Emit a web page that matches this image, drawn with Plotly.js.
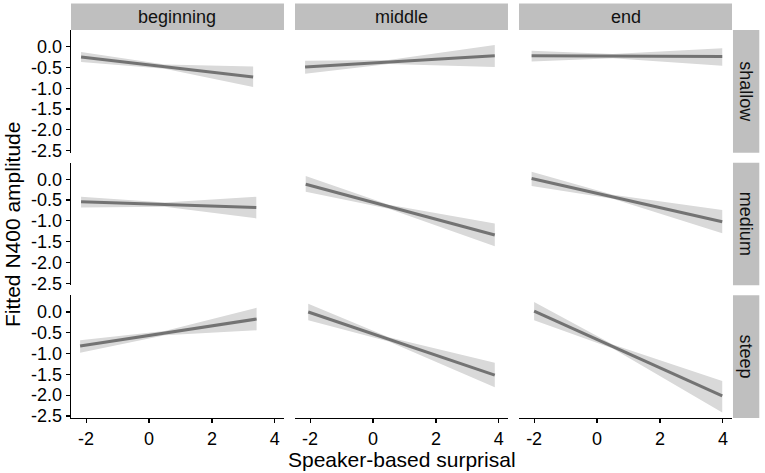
<!DOCTYPE html>
<html>
<head>
<meta charset="utf-8">
<script src="https://cdn.plot.ly/plotly-3.0.1.min.js"></script>
<style>
  html, body { margin: 0; padding: 0; background: #fff; }
  #chart { width: 765px; height: 473px; }
</style>
</head>
<body>
<div id="chart"></div>
<script>
// facet labels
const positions = ["beginning", "middle", "end"];   // columns
const slopes = ["shallow", "medium", "steep"];      // rows

// panels go row by row: shallow (beginning, middle, end), medium (...), steep (...)
const xFrom = [-2.16, -2.16, -2.08, -2.16, -2.14, -2.08, -2.19, -2.06, -2.0];
const xMid = [0.5, 0.5, 0.5, 0.5, 0.5, 0.5, 0.5, 0.5, 0.5];
const xTo = [3.31, 3.87, 3.98, 3.41, 3.87, 3.98, 3.42, 3.87, 3.98];

const fitFrom = [-0.25, -0.49, -0.22, -0.54, -0.12, 0.02, -0.82, 0.0, 0.02];
const fitTo = [-0.73, -0.22, -0.24, -0.68, -1.34, -1.02, -0.17, -1.52, -2.02];

const upperFrom = [-0.13, -0.34, -0.10, -0.42, 0.08, 0.18, -0.68, 0.20, 0.24];
const upperMid = [-0.43, -0.32, -0.18, -0.56, -0.61, -0.37, -0.46, -0.61, -0.78];
const upperTo = [-0.48, 0.04, -0.04, -0.42, -1.06, -0.74, 0.10, -1.22, -1.66];

const lowerFrom = [-0.37, -0.65, -0.36, -0.68, -0.30, -0.16, -0.98, -0.20, -0.20];
const lowerMid = [-0.53, -0.42, -0.28, -0.66, -0.71, -0.47, -0.56, -0.71, -0.88];
const lowerTo = [-0.97, -0.49, -0.46, -0.94, -1.61, -1.30, -0.44, -1.81, -2.42];

const xTickVals = [-2, 0, 2, 4];
const xTickText = ["-2", "0", "2", "4"];
const yTickVals = [0, -0.5, -1, -1.5, -2, -2.5];
const yTickText = ["0.0", "-0.5", "-1.0", "-1.5", "-2.0", "-2.5"];

const xTitle = "Speaker-based surprisal";
const yTitle = "Fitted N400 amplitude";

// layout geometry (paper fractions)
const colDomains = [[0, 0.3222], [0.3389, 0.6611], [0.6778, 1]];
const rowDomains = [[0.6838, 1], [0.3419, 0.6581], [0, 0.3162]];

const font = "Liberation Sans, Arial, sans-serif";
const ink = "#000";
const lineColor = "#737373";
const ribbonColor = "#d9d9d9";
const stripColor = "#bfbfbf";

const traces = [];
const layout = {
    width: 765,
    height: 473,
    margin: { l: 71, r: 33, t: 30, b: 55 },
    paper_bgcolor: "#fff",
    plot_bgcolor: "#fff",
    showlegend: false,
    font: { family: font, size: 18, color: ink },
    shapes: [],
    annotations: []
};

for (let r = 0; r < 3; r++) {
    for (let c = 0; c < 3; c++) {
        const i = r * 3 + c;
        const sfx = i === 0 ? "" : String(i + 1);
        const xa = "x" + sfx, ya = "y" + sfx;

        const rx = [xFrom[i], xMid[i], xTo[i]];
        const up = [upperFrom[i], upperMid[i], upperTo[i]];
        const lo = [lowerFrom[i], lowerMid[i], lowerTo[i]];
        traces.push({
            type: "scatter", mode: "lines",
            x: rx.concat(rx.slice().reverse()),
            y: up.concat(lo.slice().reverse()),
            fill: "toself", fillcolor: ribbonColor,
            line: { width: 0 },
            hoverinfo: "skip",
            xaxis: xa, yaxis: ya
        });
        traces.push({
            type: "scatter", mode: "lines",
            x: [xFrom[i], xTo[i]],
            y: [fitFrom[i], fitTo[i]],
            line: { color: lineColor, width: 3 },
            xaxis: xa, yaxis: ya
        });

        const bottom = r === 2, left = c === 0;
        layout["xaxis" + sfx] = {
            domain: colDomains[c], anchor: ya,
            range: [-2.48, 4.29],
            tickvals: xTickVals, ticktext: xTickText,
            showticklabels: bottom,
            ticks: bottom ? "outside" : "", ticklen: 4, tickwidth: 1.2, tickcolor: ink,
            showline: bottom, linecolor: ink, linewidth: 1.4,
            showgrid: false, zeroline: false,
            tickfont: { size: 18, color: ink }
        };
        layout["yaxis" + sfx] = {
            domain: rowDomains[r], anchor: xa,
            range: [-2.55, 0.4],
            tickvals: yTickVals, ticktext: yTickText,
            showticklabels: left,
            ticks: left ? "outside" : "", ticklen: 4, tickwidth: 1.2, tickcolor: ink,
            showline: left, linecolor: ink, linewidth: 1.4,
            showgrid: false, zeroline: false,
            tickfont: { size: 18, color: ink }
        };
    }
}

// column strips on top
positions.forEach(function (p, c) {
    layout.shapes.push({
        type: "rect", xref: "paper", yref: "paper",
        x0: colDomains[c][0], x1: colDomains[c][1], y0: 1.0, y1: 1.068,
        fillcolor: stripColor, line: { width: 0 }, layer: "below"
    });
    layout.annotations.push({
        xref: "paper", yref: "paper",
        x: (colDomains[c][0] + colDomains[c][1]) / 2, y: 1.034,
        text: p, showarrow: false, xanchor: "center", yanchor: "middle",
        font: { size: 18, color: "#111" }
    });
});

// row strips on the right
slopes.forEach(function (s, r) {
    layout.shapes.push({
        type: "rect", xref: "paper", yref: "paper",
        x0: 1.0015, x1: 1.0413, y0: rowDomains[r][0], y1: rowDomains[r][1],
        fillcolor: stripColor, line: { width: 0 }, layer: "below"
    });
    layout.annotations.push({
        xref: "paper", yref: "paper",
        x: 1.0214, y: (rowDomains[r][0] + rowDomains[r][1]) / 2,
        text: s, showarrow: false, textangle: 90,
        xanchor: "center", yanchor: "middle",
        font: { size: 18, color: "#111" }
    });
});

// axis titles
layout.annotations.push({
    xref: "paper", yref: "paper", x: 0.5, y: -0.108,
    text: xTitle, showarrow: false, xanchor: "center", yanchor: "middle",
    font: { size: 21, color: ink }
});
layout.annotations.push({
    xref: "paper", yref: "paper", x: -0.0893, y: 0.5,
    text: yTitle, showarrow: false, textangle: -90,
    xanchor: "center", yanchor: "middle",
    font: { size: 21, color: ink }
});

Plotly.newPlot("chart", traces, layout, { staticPlot: true, displayModeBar: false });
</script>
</body>
</html>
